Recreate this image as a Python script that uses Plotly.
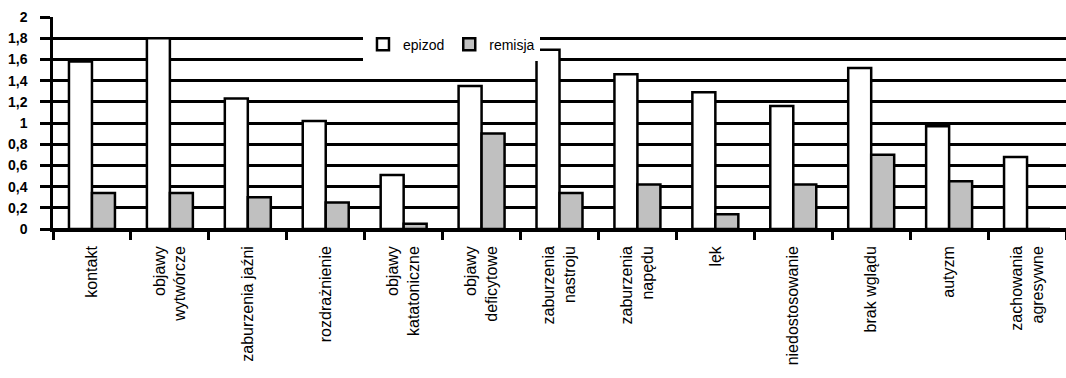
import plotly.graph_objects as go

# Symptom categories (x axis)
categories = [
    "kontakt",
    "objawy<br>wytwórcze",
    "zaburzenia jaźni",
    "rozdrażnienie",
    "objawy<br>katatoniczne",
    "objawy<br>deficytowe",
    "zaburzenia<br>nastroju",
    "zaburzenia<br>napędu",
    "lęk",
    "niedostosowanie",
    "brak wglądu",
    "autyzm",
    "zachowania<br>agresywne",
]

# Mean scores in the episode and in remission
epizod = [1.58, 1.80, 1.23, 1.02, 0.51, 1.35, 1.69, 1.46, 1.29, 1.16, 1.52, 0.97, 0.68]
remisja = [0.34, 0.34, 0.30, 0.25, 0.05, 0.90, 0.34, 0.42, 0.14, 0.42, 0.70, 0.45, 0.0]

# Y axis ticks with decimal commas
y_ticks = [0, 0.2, 0.4, 0.6, 0.8, 1.0, 1.2, 1.4, 1.6, 1.8, 2.0]
y_tick_text = ["0", "0,2", "0,4", "0,6", "0,8", "1", "1,2", "1,4", "1,6", "1,8", "2"]

FONT = "Liberation Sans, Arial, sans-serif"

fig = go.Figure()
fig.add_trace(go.Bar(
    name="epizod", x=categories, y=epizod,
    marker=dict(color="white", line=dict(color="black", width=2.5)),
))
fig.add_trace(go.Bar(
    name="remisja", x=categories, y=remisja,
    marker=dict(color="#C0C0C0", line=dict(color="black", width=2.5)),
))

fig.update_layout(
    width=1066, height=378,
    margin=dict(l=53, r=0, t=17, b=149),
    paper_bgcolor="white", plot_bgcolor="white",
    barmode="group", bargap=0.41, bargroupgap=0.0,
    font=dict(family=FONT, color="black"),
    showlegend=True,
    legend=dict(
        orientation="h",
        x=0.306, xanchor="left",
        y=0.945, yanchor="top",
        bgcolor="white", borderwidth=0,
        font=dict(size=14, family=FONT, color="black"),
        itemwidth=30,
        tracegroupgap=0,
    ),
)

fig.update_xaxes(
    type="category",
    tickson="boundaries",
    ticks="outside", ticklen=8, tickwidth=2.5, tickcolor="black",
    tickangle=-90,
    tickfont=dict(size=16, family=FONT, color="black"),
    showline=True, linecolor="black", linewidth=2.5,
    showgrid=False,
    ticklabelstandoff=8,
)

fig.update_yaxes(
    range=[0, 2],
    tickvals=y_ticks, ticktext=y_tick_text,
    ticks="outside", ticklen=10, tickwidth=2.5, tickcolor="black",
    tickfont=dict(size=14, family=FONT, color="black", weight="bold"),
    showline=True, linecolor="black", linewidth=2.5,
    showgrid=True, gridcolor="black", gridwidth=2.5,
    zeroline=True, zerolinecolor="black", zerolinewidth=2.5,
    ticklabelstandoff=10,
)

fig.write_html("out.html")
